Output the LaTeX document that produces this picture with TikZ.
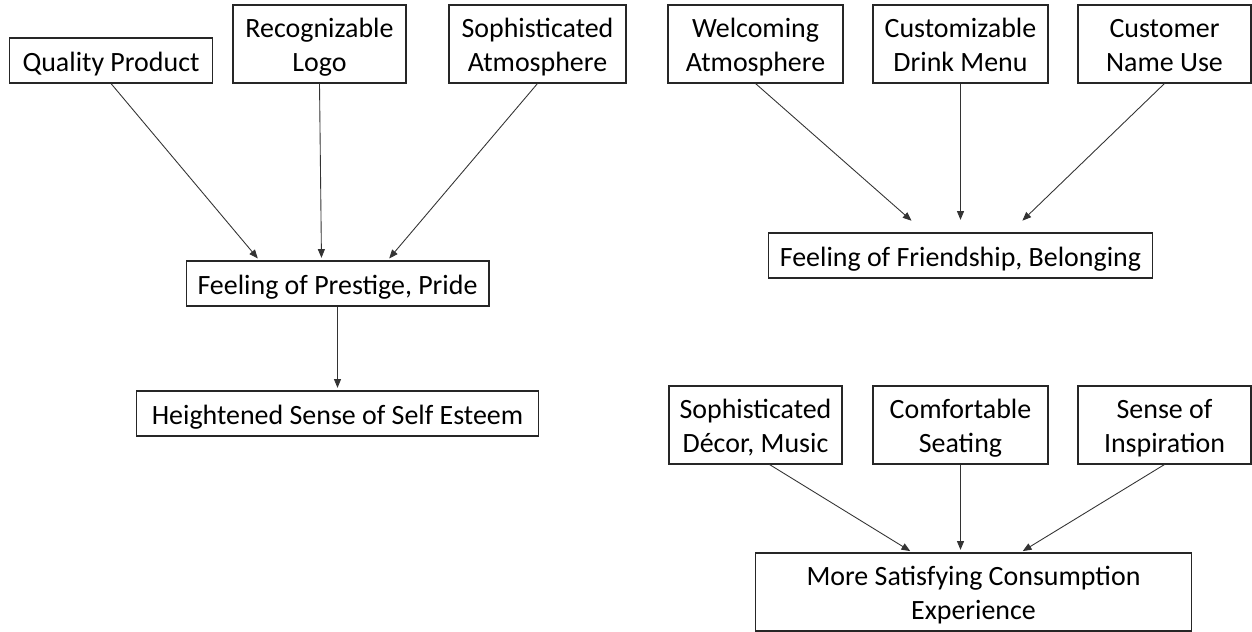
\documentclass[tikz,border=0pt]{standalone}
\usepackage{fontspec}
\setmainfont{Carlito}
\usetikzlibrary{arrows.meta, calc}

\newcommand{\topstrut}{\rule{0pt}{\dimexpr0.7\baselineskip+4.5pt\relax}}
\newcommand{\lines}[2]{\topstrut#1\\#2\strut}

\tikzset{
  box/.style={draw=black!85, line width=0.6pt, inner sep=0pt, align=center,
    minimum width=3.5cm, minimum height=1.56cm,
    font=\fontsize{15.9pt}{18.9pt}\selectfont},
  flat/.style={box, minimum height=0.9cm,
    execute at begin node=\topstrut, execute at end node=\strut},
  link/.style={draw=black!80, line width=0.5pt,
    -{Triangle[length=5pt,width=4pt]}, shorten >=1.5pt}
}

\begin{document}
\begin{tikzpicture}[x=0.02cm, y=-0.02cm]
  \useasboundingbox (0,0) rectangle (1252,632);

  % ---------- left: prestige ----------
  \node[flat, minimum width=4.06cm] (quality) at (111,60.5) {Quality Product};
  \node[box, minimum width=3.46cm] (logo) at (319.5,44) {\lines{Recognizable}{Logo}};
  \node[box, minimum width=3.54cm] (sophatm) at (537.5,44) {\lines{Sophisticated}{Atmosphere}};
  \node[flat, minimum width=6.06cm] (prestige) at (337.5,283.5) {Feeling of Prestige, Pride};
  \node[flat, minimum width=8.04cm] (esteem) at (337.5,413.5) {Heightened Sense of Self Esteem};

  \draw[link] (quality.south) -- ($(prestige.north)+(-78,0)$);
  \draw[link] (logo.south) -- ($(prestige.north)+(-16,0)$);
  \draw[link] (sophatm.south) -- ($(prestige.north)+(50,0)$);
  \draw[link] (prestige.south) -- (esteem.north);

  % ---------- top right: friendship ----------
  \node[box] (welcome) at (755.5,44) {\lines{Welcoming}{Atmosphere}};
  \node[box] (drinks) at (960.5,44) {\lines{Customizable}{Drink Menu}};
  \node[box, minimum width=3.46cm] (names) at (1164.5,44) {\lines{Customer}{Name Use}};
  \node[flat, minimum width=7.7cm] (friend) at (960.5,255.5) {Feeling of Friendship, Belonging};

  \draw[link] (welcome.south) -- ($(friend.north)+(-47,-10)$);
  \draw[link] (drinks.south) -- ($(friend.north)+(0,-10)$);
  \draw[link] (names.south) -- ($(friend.north)+(60,-10)$);

  % ---------- bottom right: consumption ----------
  \node[box, minimum width=3.46cm] (decor) at (755.5,425) {\lines{Sophisticated}{Décor, Music}};
  \node[box] (seating) at (960.5,425) {\lines{Comfortable}{Seating}};
  \node[box, minimum width=3.46cm] (inspire) at (1164.5,425) {\lines{Sense of}{Inspiration}};
  \node[box, minimum width=8.74cm] (consume) at (973.5,592) {\lines{More Satisfying Consumption}{Experience}};

  \draw[link] ($(decor.south)+(14,0)$) -- ($(consume.north)+(-61,0)$);
  \draw[link] (seating.south) -- ($(consume.north)+(-13,0)$);
  \draw[link] (inspire.south) -- ($(consume.north)+(47,0)$);

\end{tikzpicture}
\end{document}
